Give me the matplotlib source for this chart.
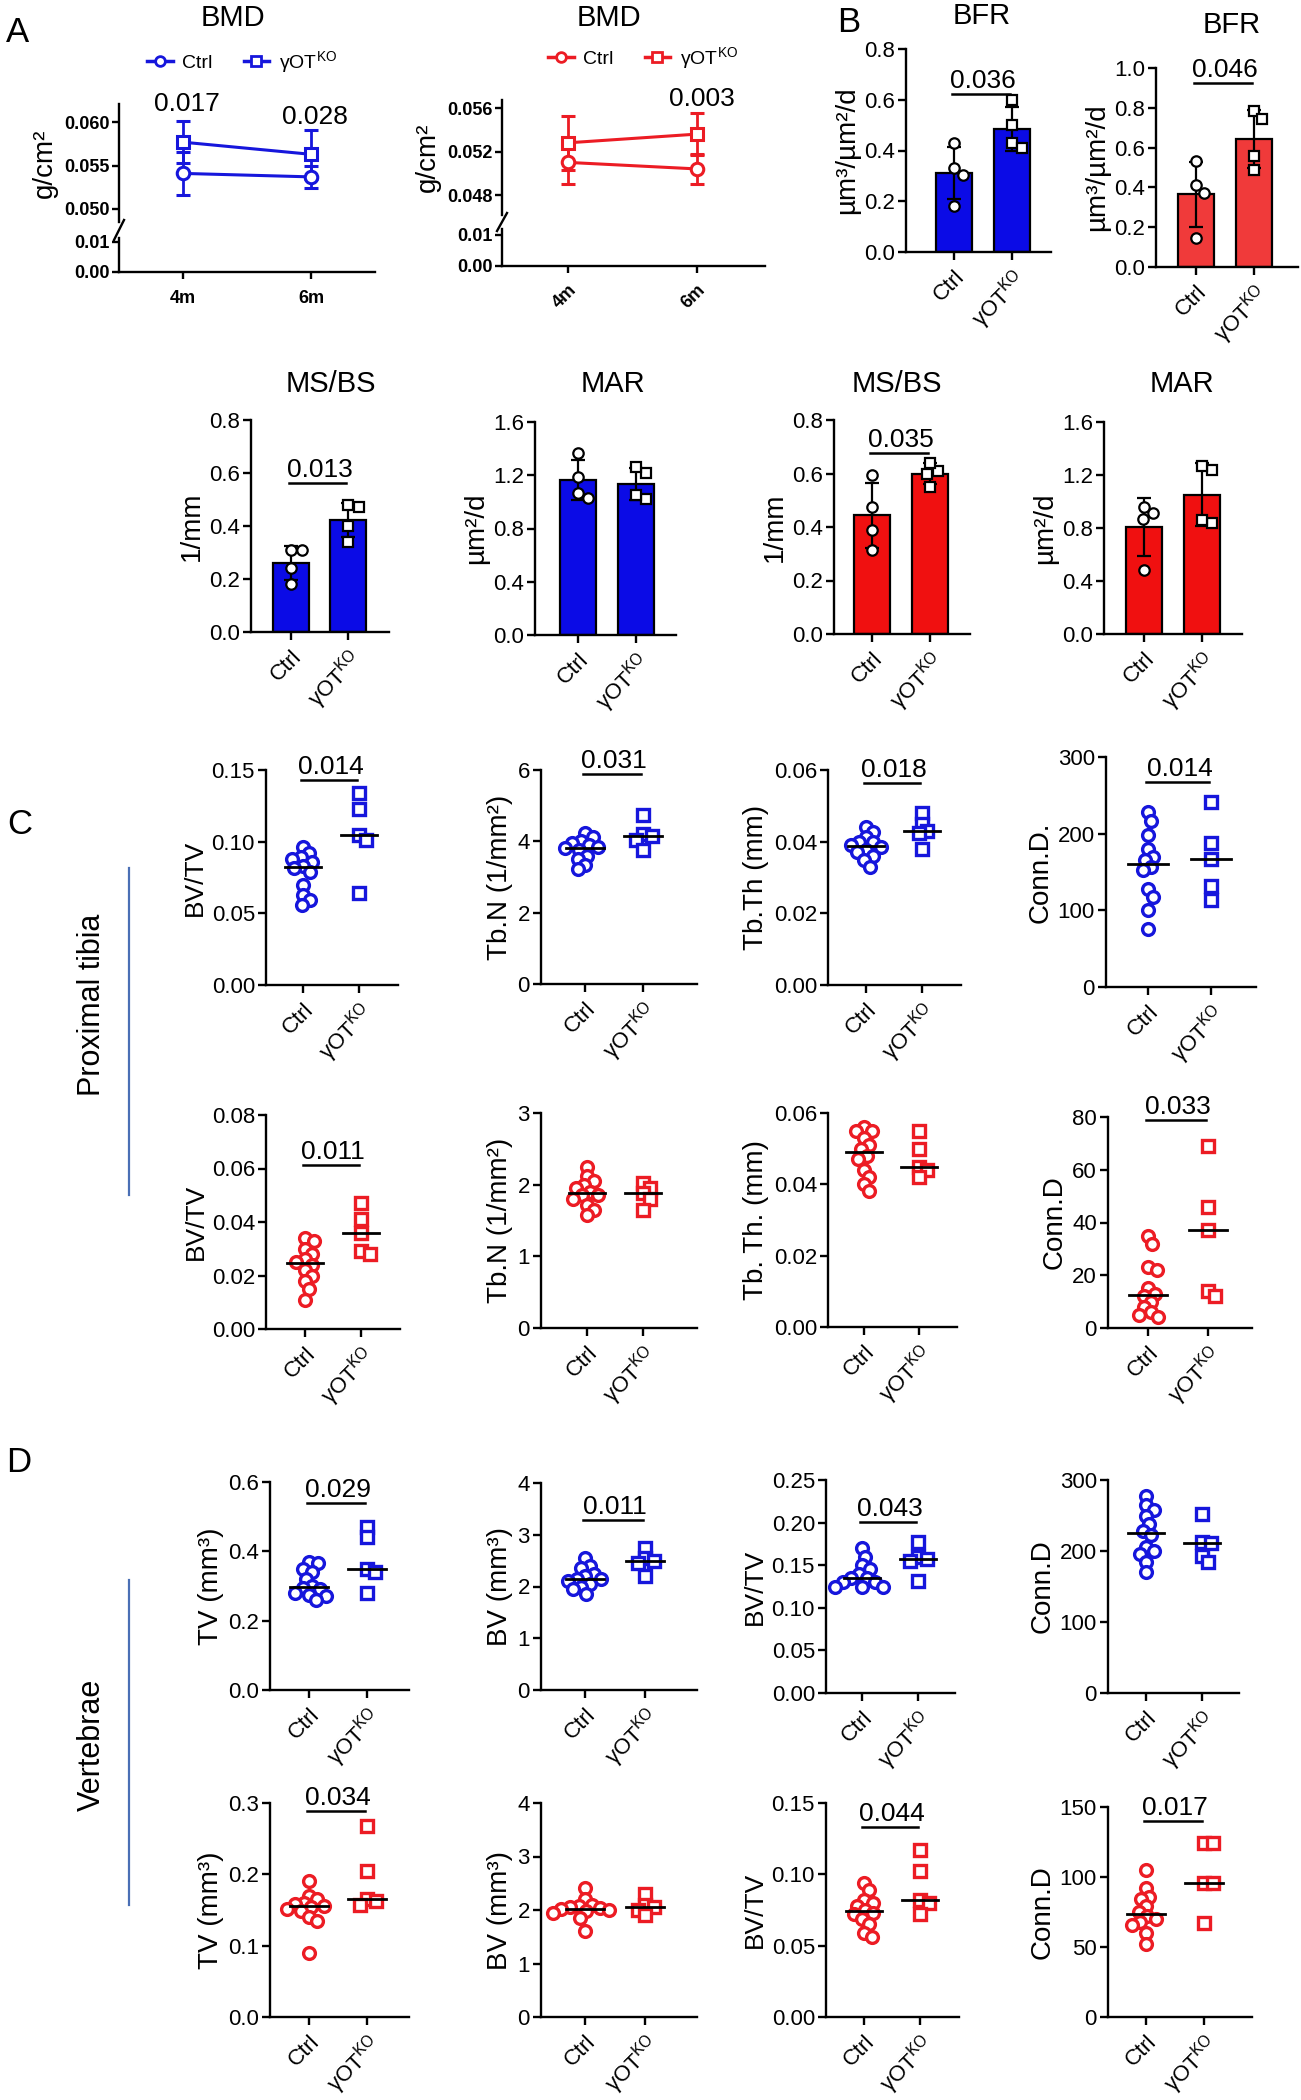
# Bone phenotype panels (BMD, histomorphometry, microCT) for Ctrl vs gammaOT-KO
# Blue = one cohort, red = the other; layout follows the published figure.

import numpy as np
import matplotlib
matplotlib.use('Agg')
import matplotlib.pyplot as plt
from matplotlib.lines import Line2D
from matplotlib.ticker import FormatStrFormatter

W, H = 1301, 2100
BLUE = '#1616dc'
BLUE_BAR = '#0b0be6'
RED = '#ec1c24'
RED_BAR = '#f01010'
RED_BAR_LIGHT = '#f03a3a'
LINE_BLUE = '#4a6fb5'

NARROW = ['Liberation Sans Narrow', 'Liberation Sans', 'DejaVu Sans']
REGULAR = ['Liberation Sans', 'DejaVu Sans']

plt.rcParams['font.family'] = NARROW
plt.rcParams['mathtext.fontset'] = 'custom'
plt.rcParams['mathtext.rm'] = 'Liberation Sans'
plt.rcParams['mathtext.it'] = 'Liberation Sans:italic'
plt.rcParams['mathtext.bf'] = 'Liberation Sans:bold'
plt.rcParams['axes.linewidth'] = 1.7

GROUPS = ['Ctrl', 'γOT$^{\\mathrm{KO}}$']
AGES = ['4m', '6m']

# ---- A: BMD (mean, SD) at 4m and 6m ----
bmd_b_ctrl = [0.0541, 0.0537]
bmd_b_ctrl_sd = [0.0025, 0.0013]
bmd_b_ko = [0.0577, 0.0563]
bmd_b_ko_sd = [0.0024, 0.0028]
bmd_r_ctrl = [0.0510, 0.0504]
bmd_r_ctrl_sd = [0.0020, 0.0014]
bmd_r_ko = [0.0528, 0.0536]
bmd_r_ko_sd = [0.0025, 0.0019]

# ---- B: dynamic histomorphometry, individual animals ----
bfr_b_ctrl = [0.43, 0.33, 0.305, 0.18]
bfr_b_ko = [0.60, 0.50, 0.43, 0.41]
bfr_r_ctrl = [0.535, 0.41, 0.37, 0.145]
bfr_r_ko = [0.785, 0.745, 0.56, 0.485]
msbs_b_ctrl = [0.31, 0.31, 0.24, 0.18]
msbs_b_ko = [0.48, 0.47, 0.40, 0.34]
mar_b_ctrl = [1.37, 1.19, 1.03, 1.07]
mar_b_ko = [1.22, 1.26, 1.02, 1.05]
msbs_r_ctrl = [0.594, 0.475, 0.39, 0.314]
msbs_r_ko = [0.55, 0.60, 0.61, 0.64]
mar_r_ctrl = [0.91, 0.96, 0.87, 0.48]
mar_r_ko = [1.24, 1.27, 0.835, 0.86]

# ---- C: proximal tibia microCT ----
c1_bvtv_ctrl = [0.0965, 0.092, 0.0895, 0.0877, 0.086, 0.083, 0.0815, 0.079, 0.070, 0.063, 0.059, 0.056]
c1_bvtv_ko = [0.134, 0.123, 0.105, 0.101, 0.064]
c1_tbn_ctrl = [4.22, 4.12, 4.0, 3.95, 3.9, 3.85, 3.8, 3.75, 3.6, 3.5, 3.35, 3.22]
c1_tbn_ko = [4.75, 4.2, 4.15, 4.05, 3.75]
c1_tbth_ctrl = [0.0442, 0.0428, 0.0414, 0.040, 0.0398, 0.039, 0.0385, 0.0377, 0.037, 0.036, 0.035, 0.033]
c1_tbth_ko = [0.048, 0.045, 0.043, 0.0425, 0.038]
c1_connd_ctrl = [228, 217, 198, 180, 170, 165, 157, 152, 128, 118, 101, 76]
c1_connd_ko = [241, 188, 167, 132, 113]

c2_bvtv_ctrl = [0.034, 0.033, 0.030, 0.028, 0.026, 0.025, 0.024, 0.022, 0.020, 0.018, 0.015, 0.011]
c2_bvtv_ko = [0.047, 0.041, 0.036, 0.029, 0.028]
c2_tbn_ctrl = [2.25, 2.12, 2.05, 2.0, 1.95, 1.9, 1.86, 1.85, 1.8, 1.72, 1.65, 1.58]
c2_tbn_ko = [2.02, 1.95, 1.88, 1.8, 1.65]
c2_tbth_ctrl = [0.056, 0.055, 0.055, 0.053, 0.051, 0.050, 0.048, 0.047, 0.044, 0.042, 0.040, 0.038]
c2_tbth_ko = [0.055, 0.050, 0.045, 0.044, 0.042]
c2_connd_ctrl = [35, 32, 23, 22, 15, 13, 12, 10, 8, 6, 5, 4]
c2_connd_ko = [69, 46, 37, 14, 12]

# ---- D: vertebrae microCT ----
d1_tv_ctrl = [0.37, 0.365, 0.35, 0.34, 0.32, 0.30, 0.295, 0.29, 0.28, 0.275, 0.27, 0.26]
d1_tv_ko = [0.47, 0.44, 0.35, 0.34, 0.28]
d1_bv_ctrl = [2.55, 2.4, 2.35, 2.25, 2.2, 2.15, 2.15, 2.1, 2.05, 2.0, 1.95, 1.85]
d1_bv_ko = [2.75, 2.55, 2.5, 2.45, 2.2]
d1_bvtv_ctrl = [0.17, 0.16, 0.15, 0.145, 0.14, 0.135, 0.135, 0.13, 0.13, 0.125, 0.125, 0.125]
d1_bvtv_ko = [0.177, 0.160, 0.157, 0.155, 0.132]
d1_connd_ctrl = [278, 265, 258, 250, 238, 228, 222, 205, 200, 196, 185, 170]
d1_connd_ko = [252, 213, 211, 193, 184]

d2_tv_ctrl = [0.19, 0.17, 0.165, 0.16, 0.158, 0.156, 0.154, 0.152, 0.148, 0.14, 0.135, 0.09]
d2_tv_ko = [0.268, 0.205, 0.165, 0.163, 0.157]
d2_bv_ctrl = [2.42, 2.2, 2.1, 2.08, 2.05, 2.03, 2.02, 2.0, 1.98, 1.95, 1.85, 1.6]
d2_bv_ko = [2.3, 2.1, 2.05, 2.0, 1.9]
d2_bvtv_ctrl = [0.094, 0.089, 0.082, 0.080, 0.078, 0.075, 0.073, 0.072, 0.069, 0.065, 0.059, 0.056]
d2_bvtv_ko = [0.117, 0.102, 0.082, 0.080, 0.072]
d2_connd_ctrl = [105, 92, 86, 84, 79, 75, 72, 70, 68, 66, 60, 52]
d2_connd_ko = [124, 124, 96, 96, 67]


def fig_axes(fig, left, right, top, bottom):
    """Axes from pixel edges (y measured from the top of the image)."""
    return fig.add_axes([left / W, 1 - bottom / H, (right - left) / W, (bottom - top) / H])


def fig_line(fig, x0, x1, y0, y1, color='black', lw=1.8):
    fig.add_artist(Line2D([x0 / W, x1 / W], [1 - y0 / H, 1 - y1 / H],
                          transform=fig.transFigure, color=color, lw=lw))


def swarm(ax, xc, vals, diam):
    """Beeswarm x positions so markers of `diam` pixels do not overlap."""
    tr = ax.transData
    pts = tr.transform(np.column_stack([np.full(len(vals), xc), vals]))
    unit = tr.transform((1, 0))[0] - tr.transform((0, 0))[0]
    placed = []
    xs = np.full(len(vals), float(xc))
    for i in np.argsort(vals)[::-1]:
        y = pts[i, 1]
        cands = [0.0]
        for px, py in placed:
            dy = abs(y - py)
            if dy < diam:
                dx = np.sqrt(diam ** 2 - dy ** 2)
                cands += [px + dx, px - dx]
        cands.sort(key=abs)
        for c in cands:
            if all((c - px) ** 2 + (y - py) ** 2 >= diam ** 2 - 0.01 for px, py in placed):
                break
        placed.append((c, y))
        xs[i] = xc + c / unit
    return xs


def setup(fig, geom, ymax, step, fmt, ylabel, ysize):
    x0, xr, yt, yb, c0, c1 = geom
    ax = fig_axes(fig, x0, xr, yt, yb)
    unit = c1 - c0
    ax.set_xlim(-(c0 - x0) / unit, 1 + (xr - c1) / unit)
    ax.set_ylim(0, ymax)
    ax.spines[['top', 'right']].set_visible(False)
    n = int(round(ymax / step))
    ax.set_yticks(np.arange(n + 1) * step)
    ax.yaxis.set_major_formatter(FormatStrFormatter(fmt))
    ax.set_xticks([0, 1])
    ax.set_xticklabels(GROUPS, rotation=45, ha='right', rotation_mode='anchor',
                       fontsize=17, family=REGULAR)
    ax.tick_params(axis='both', width=1.7, length=6, pad=2, labelsize=16)
    ax.tick_params(axis='x', pad=4)
    ax.set_ylabel(ylabel, fontsize=ysize, family=REGULAR, labelpad=3)
    ax.patch.set_visible(False)
    return ax


def bracket(fig, geom, pval):
    if pval is None:
        return
    text, ly = pval
    c0, c1 = geom[4], geom[5]
    fig_line(fig, c0 - 2, c1 - 2, ly, ly)
    fig.text((c0 + c1) / 2 / W, 1 - (ly - 6) / H, text, ha='center', va='baseline', fontsize=19)


def dot_panel(fig, geom, ctrl, ko, color, ymax, step, fmt, ylabel, ysize=20, pval=None):
    ax = setup(fig, geom, ymax, step, fmt, ylabel, ysize)
    for i, (vals, mk, ms) in enumerate([(ctrl, 'o', 8.5), (ko, 's', 8)]):
        xs = swarm(ax, i, vals, 9)
        ax.plot(xs, vals, ls='none', marker=mk, ms=ms, mfc='white', mec=color,
                mew=2.4, zorder=3, clip_on=False)
        med = np.median(vals)
        ax.plot([i - 0.32, i + 0.32], [med, med], color='black', lw=2, zorder=4)
    bracket(fig, geom, pval)
    return ax


def bar_panel(fig, geom, ctrl, ko, color, ymax, step, ylabel, title, title_xy, pval=None):
    ax = setup(fig, geom, ymax, step, '%.1f', ylabel, 20)
    means = [np.mean(ctrl), np.mean(ko)]
    sds = [np.std(ctrl, ddof=1), np.std(ko, ddof=1)]
    ax.bar([0, 1], means, width=0.62, color=color, edgecolor='black', linewidth=1.6, zorder=2)
    ax.errorbar([0, 1], means, yerr=sds, fmt='none', ecolor='black', elinewidth=1.6,
                capsize=5, capthick=1.6, zorder=3)
    for i, (vals, mk) in enumerate([(ctrl, 'o'), (ko, 's')]):
        xs = swarm(ax, i, vals, 11)
        ax.plot(xs, vals, ls='none', marker=mk, ms=7.5, mfc='white', mec='black',
                mew=1.6, zorder=4, clip_on=False)
    fig.text(title_xy[0] / W, 1 - title_xy[1] / H, title, ha='center', va='center', fontsize=21)
    bracket(fig, geom, pval)
    return ax


def bmd_panel(fig, box, ylim_top, ticks_top, ylim_bot, xlim, series, color, rotate):
    l, r, t, mid_b, mid_t, b = box
    ax_t = fig_axes(fig, l, r, t, mid_b)
    ax_b = fig_axes(fig, l, r, mid_t, b)
    for ax in (ax_t, ax_b):
        ax.set_xlim(xlim)
        ax.spines[['top', 'right']].set_visible(False)
        ax.patch.set_visible(False)
        ax.tick_params(width=1.7, length=5, pad=2, labelsize=13)
    ax_t.spines['bottom'].set_visible(False)
    ax_t.set_xticks([])
    ax_t.set_ylim(ylim_top)
    ax_t.set_yticks(ticks_top)
    ax_t.yaxis.set_major_formatter(FormatStrFormatter('%.3f'))
    ax_b.set_ylim(ylim_bot)
    ax_b.set_yticks([0, 0.01])
    ax_b.yaxis.set_major_formatter(FormatStrFormatter('%.2f'))
    ax_b.set_xticks([0, 1])
    if rotate:
        ax_b.set_xticklabels(AGES, rotation=45, ha='right', rotation_mode='anchor')
        ax_b.tick_params(axis='x', pad=6)
    else:
        ax_b.set_xticklabels(AGES)
        ax_b.tick_params(axis='x', pad=8)
    for ax in (ax_t, ax_b):
        for lab in ax.get_xticklabels() + ax.get_yticklabels():
            lab.set_fontweight('bold')
    for vals, sd, mk in series:
        ax_t.errorbar([0, 1], vals, yerr=sd, color=color, marker=mk, mfc='white', mec=color,
                      ms=9, mew=2.2, lw=2.2, elinewidth=2, capsize=5, capthick=2, zorder=3)
    ax_t.set_ylabel('g/cm²', fontsize=20, family=REGULAR, labelpad=4)
    # broken axis mark
    fig_line(fig, l - 5, l + 5, mid_t + 2, mid_b - 2, lw=1.7)
    return ax_t, ax_b


def legend_at(fig, color, x, y):
    handles = [Line2D([], [], color=color, marker='o', mfc='white', mec=color, ms=7, mew=2, lw=2.5),
               Line2D([], [], color=color, marker='s', mfc='white', mec=color, ms=7, mew=2, lw=2.5)]
    fig.legend(handles, GROUPS, loc='center', bbox_to_anchor=(x / W, 1 - y / H), ncol=2,
               frameon=False, fontsize=14, handlelength=1.3, handletextpad=0.5, columnspacing=1.6)


fig = plt.figure(figsize=(W / 100, H / 100), dpi=100)

# ---------------- A ----------------
bmd_panel(fig, (119, 375, 104, 222, 238, 272), (0.0485, 0.0621), [0.050, 0.055, 0.060],
          (0, 0.0113), (-0.5, 1.5),
          [(bmd_b_ctrl, bmd_b_ctrl_sd, 'o'), (bmd_b_ko, bmd_b_ko_sd, 's')], BLUE, False)
bmd_panel(fig, (502, 765, 100, 215, 229, 266), (0.04616, 0.05674), [0.048, 0.052, 0.056],
          (0, 0.0119), (-0.51, 1.53),
          [(bmd_r_ctrl, bmd_r_ctrl_sd, 'o'), (bmd_r_ko, bmd_r_ko_sd, 's')], RED, True)
fig.text(233 / W, 1 - 18 / H, 'BMD', ha='center', va='center', fontsize=21)
fig.text(609 / W, 1 - 18 / H, 'BMD', ha='center', va='center', fontsize=21)
legend_at(fig, BLUE, 242, 62)
legend_at(fig, RED, 643, 58)
fig.text(187 / W, 1 - 104 / H, '0.017', ha='center', va='center', fontsize=19)
fig.text(315 / W, 1 - 117 / H, '0.028', ha='center', va='center', fontsize=19)
fig.text(702 / W, 1 - 99 / H, '0.003', ha='center', va='center', fontsize=19)

# ---------------- B ----------------
bar_panel(fig, (906, 1051, 49, 252, 954, 1012), bfr_b_ctrl, bfr_b_ko, BLUE_BAR, 0.8, 0.2,
          'µm³/µm²/d', 'BFR', (982, 16), ('0.036', 94))
bar_panel(fig, (1156, 1298, 68, 267, 1196, 1254), bfr_r_ctrl, bfr_r_ko, RED_BAR_LIGHT, 1.0, 0.2,
          'µm³/µm²/d', 'BFR', (1232, 25), ('0.046', 83))
bar_panel(fig, (251, 389, 420, 632, 291, 348), msbs_b_ctrl, msbs_b_ko, BLUE_BAR, 0.8, 0.2,
          '1/mm', 'MS/BS', (331, 384), ('0.013', 483))
bar_panel(fig, (535, 676, 422, 635, 578, 636), mar_b_ctrl, mar_b_ko, BLUE_BAR, 1.6, 0.4,
          'µm²/d', 'MAR', (613, 384))
bar_panel(fig, (834, 970, 420, 634, 872, 930), msbs_r_ctrl, msbs_r_ko, RED_BAR, 0.8, 0.2,
          '1/mm', 'MS/BS', (897, 384), ('0.035', 453))
bar_panel(fig, (1104, 1242, 422, 634, 1144, 1202), mar_r_ctrl, mar_r_ko, RED_BAR, 1.6, 0.4,
          'µm²/d', 'MAR', (1182, 384))

# ---------------- C: proximal tibia ----------------
dot_panel(fig, (266, 398, 770, 985, 303, 359), c1_bvtv_ctrl, c1_bvtv_ko, BLUE, 0.15, 0.05, '%.2f',
          'BV/TV', 19, ('0.014', 780))
dot_panel(fig, (541, 697, 770, 984, 585, 643), c1_tbn_ctrl, c1_tbn_ko, BLUE, 6, 2, '%d',
          'Tb.N (1/mm²)', 20, ('0.031', 774))
dot_panel(fig, (828, 961, 770, 985, 866, 922), c1_tbth_ctrl, c1_tbth_ko, BLUE, 0.06, 0.02, '%.2f',
          'Tb.Th (mm)', 20, ('0.018', 783))
dot_panel(fig, (1106, 1256, 757, 987, 1148, 1211), c1_connd_ctrl, c1_connd_ko, BLUE, 300, 100, '%d',
          'Conn.D.', 20, ('0.014', 782))

dot_panel(fig, (266, 400, 1115, 1329, 305, 361), c2_bvtv_ctrl, c2_bvtv_ko, RED, 0.08, 0.02, '%.2f',
          'BV/TV', 19, ('0.011', 1165))
dot_panel(fig, (541, 697, 1113, 1328, 587, 643), c2_tbn_ctrl, c2_tbn_ko, RED, 3, 1, '%d',
          'Tb.N (1/mm²)', 20)
dot_panel(fig, (828, 957, 1113, 1327, 864, 919), c2_tbth_ctrl, c2_tbth_ko, RED, 0.06, 0.02, '%.2f',
          'Tb. Th. (mm)', 20)
dot_panel(fig, (1108, 1252, 1117, 1328, 1148, 1208), c2_connd_ctrl, c2_connd_ko, RED, 80, 20, '%d',
          'Conn.D', 20, ('0.033', 1120))

# ---------------- D: vertebrae ----------------
dot_panel(fig, (270, 409, 1482, 1690, 309, 367), d1_tv_ctrl, d1_tv_ko, BLUE, 0.6, 0.2, '%.1f',
          'TV (mm³)', 20, ('0.029', 1503))
dot_panel(fig, (541, 697, 1483, 1690, 585, 645), d1_bv_ctrl, d1_bv_ko, BLUE, 4, 1, '%d',
          'BV (mm³)', 20, ('0.011', 1520))
dot_panel(fig, (826, 955, 1480, 1693, 862, 918), d1_bvtv_ctrl, d1_bvtv_ko, BLUE, 0.25, 0.05, '%.2f',
          'BV/TV', 19, ('0.043', 1522))
dot_panel(fig, (1108, 1239, 1480, 1693, 1146, 1202), d1_connd_ctrl, d1_connd_ko, BLUE, 300, 100, '%d',
          'Conn.D', 20)

dot_panel(fig, (270, 409, 1803, 2017, 309, 367), d2_tv_ctrl, d2_tv_ko, RED, 0.3, 0.1, '%.1f',
          'TV (mm³)', 20, ('0.034', 1811))
dot_panel(fig, (541, 697, 1803, 2017, 585, 645), d2_bv_ctrl, d2_bv_ko, RED, 4, 1, '%d',
          'BV (mm³)', 20)
dot_panel(fig, (826, 959, 1803, 2017, 864, 920), d2_bvtv_ctrl, d2_bvtv_ko, RED, 0.15, 0.05, '%.2f',
          'BV/TV', 19, ('0.044', 1827))
dot_panel(fig, (1108, 1252, 1807, 2017, 1146, 1204), d2_connd_ctrl, d2_connd_ko, RED, 150, 50, '%d',
          'Conn.D', 20, ('0.017', 1821))

# ---------------- labels ----------------
for letter, x, y in [('A', 18, 33), ('B', 849, 23), ('C', 20, 825), ('D', 19, 1463)]:
    fig.text(x / W, 1 - y / H, letter, ha='center', va='center', fontsize=25, family=REGULAR)

fig_line(fig, 129, 129, 868, 1195, color=LINE_BLUE, lw=1.6)
fig_line(fig, 129, 129, 1580, 1905, color=LINE_BLUE, lw=1.6)
fig.text(92 / W, 1 - 1005 / H, 'Proximal tibia', rotation=90, ha='center', va='center',
         fontsize=22, family=REGULAR)
fig.text(92 / W, 1 - 1745 / H, 'Vertebrae', rotation=90, ha='center', va='center',
         fontsize=22, family=REGULAR)

fig.savefig('out.png', dpi=100)
